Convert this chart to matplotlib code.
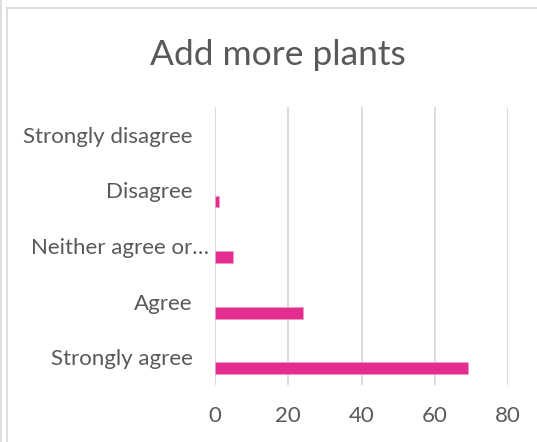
"""
plot.py
Horizontal bar chart "Add more plants" (Excel-style survey result).
"""

import matplotlib
matplotlib.use("Agg")
import matplotlib.pyplot as plt
from matplotlib.lines import Line2D
from matplotlib.transforms import ScaledTranslation

# --- Data ---
categories = ["Strongly agree", "Agree", "Neither agree or\u2026", "Disagree", "Strongly disagree"]
responses = [69, 24, 5, 1, 0]
x_ticks = [0, 20, 40, 60, 80]

TEXT_COLOR = "#595959"
GRID_COLOR = "#d9d9d9"
BAR_COLOR = "#e32d8f"

plt.rcParams["font.family"] = ["Lato", "DejaVu Sans"]

W, H = 537, 442
fig = plt.figure(figsize=(W / 100, H / 100), dpi=100)

# plot area in pixel coordinates (left, top, right, bottom)
left, top, right, bottom = 215, 107, 508, 385
ax = fig.add_axes([left / W, 1 - bottom / H, (right - left) / W, (bottom - top) / H])

ypos = list(range(len(categories)))
# Excel draws the single series slightly below each category centre
bars = ax.barh([y - 0.2 for y in ypos], responses, height=0.21,
               color=BAR_COLOR, edgecolor="#f29ac6", linewidth=0.6, zorder=3)
for b, v in zip(bars, responses):
    if v == 0:
        b.set_linewidth(0)

ax.set_xlim(0, 80)
ax.set_ylim(-0.5, len(categories) - 0.5)
ax.set_xticks(x_ticks)
ax.set_xticklabels([str(t) for t in x_ticks])
ax.set_yticks(ypos)
ax.set_yticklabels(categories)

ax.tick_params(axis="both", length=0, colors=TEXT_COLOR, labelsize=16)
ax.tick_params(axis="x", pad=15)
ax.tick_params(axis="y", pad=16)

# the truncated label sits closer to the axis in the original
for lab in ax.get_yticklabels():
    if lab.get_text().endswith("\u2026"):
        lab.set_transform(lab.get_transform() + ScaledTranslation(0.16, 0, fig.dpi_scale_trans))

ax.grid(axis="x", color=GRID_COLOR, linewidth=1.3, zorder=0)
for s in ax.spines.values():
    s.set_visible(False)

fig.text(278 / W, 1 - 55 / H, "Add more plants", ha="center", va="center",
         fontsize=25.5, color=TEXT_COLOR)

# chart frame lines
fig.add_artist(Line2D([1 / W, 1 / W], [0, 1], color=GRID_COLOR, linewidth=1.2))
fig.add_artist(Line2D([6.5 / W, 6.5 / W], [0, 1 - 8 / H], color=GRID_COLOR, linewidth=1.2))
fig.add_artist(Line2D([6.5 / W, 1], [1 - 8 / H, 1 - 8 / H], color=GRID_COLOR, linewidth=1.2))

fig.savefig("out.png", dpi=100)
